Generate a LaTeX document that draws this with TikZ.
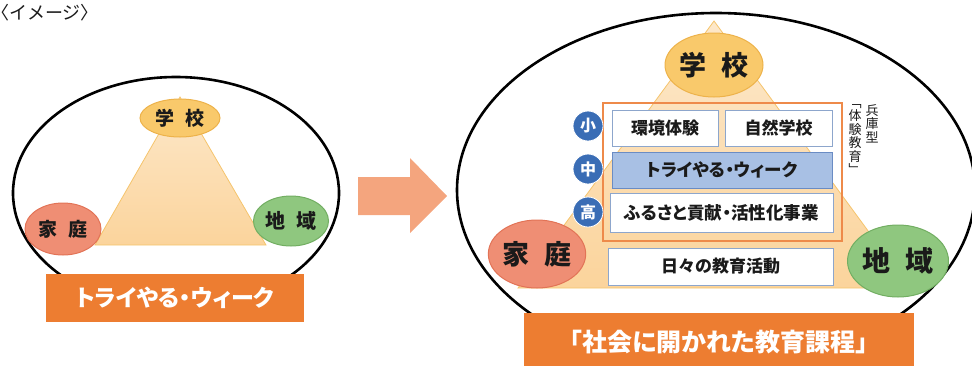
\documentclass[tikz,border=0pt]{standalone}
\usepackage{fontspec}
\newfontfamily\jp{Noto Sans CJK JP}
\newfontfamily\jpp[RawFeature=+palt]{Noto Sans CJK JP}
\usetikzlibrary{shapes.geometric}
\definecolor{schoolF}{HTML}{F9C96B}
\definecolor{schoolD}{HTML}{EDB24A}
\definecolor{homeF}{HTML}{EF8E74}
\definecolor{homeD}{HTML}{E27356}
\definecolor{areaF}{HTML}{8FC77F}
\definecolor{areaD}{HTML}{72AE62}
\definecolor{triTop}{HTML}{FDE8CA}
\definecolor{triBot}{HTML}{FBD49C}
\definecolor{triD}{HTML}{F5C46C}
\definecolor{barOrange}{HTML}{ED7D31}
\definecolor{arrowC}{HTML}{F4A57E}
\definecolor{lvlBlue}{HTML}{3A6DB5}
\definecolor{itemD}{HTML}{8DA6CC}
\definecolor{tryF}{HTML}{A8C0E4}
\definecolor{tryD}{HTML}{6A8CC4}
\definecolor{frameC}{HTML}{EE8A4A}
\definecolor{txt}{HTML}{1A1A1A}
\begin{document}
\begin{tikzpicture}[x=1pt,y=-1pt,
  outline/.style={ellipse, draw=black, line width=2.6pt, inner sep=0pt},
  bubble/.style={ellipse, inner sep=0pt, text=txt, font=\jp\bfseries},
  schoolB/.style={bubble, fill=schoolF, draw=schoolD, line width=1pt},
  homeB/.style={bubble, fill=homeF, draw=homeD, line width=1pt},
  areaB/.style={bubble, fill=areaF, draw=areaD, line width=1pt},
  orangebar/.style={rectangle, fill=barOrange, text=white, font=\jp\bfseries, inner sep=0pt},
  level/.style={circle, fill=lvlBlue, draw=white, line width=0.8pt, text=white,
    font=\jp\bfseries\fontsize{16}{16}\selectfont, minimum size=30pt, inner sep=0pt},
  item/.style={rectangle, draw=itemD, fill=white, line width=1pt, text=txt,
    font=\jp\bfseries\fontsize{17}{17}\selectfont, inner sep=0pt},
  tri/.style={top color=triTop, bottom color=triBot, draw=triD, line width=0.8pt},
  vtext/.style={font=\jp\fontsize{13}{13.5}\selectfont, align=center, anchor=north, inner sep=0pt, text=txt}
]
\useasboundingbox (0,0) rectangle (972,365);
\clip (0,0) rectangle (972,365);

% header
\node[anchor=west, inner sep=0pt, font=\jp\fontsize{18}{18}\selectfont, text=txt] (hdr) at (-9,13) {〈イメージ〉};

% ===== left diagram =====
\node[outline, minimum width=326pt, minimum height=232pt] (outL) at (176,193) {};
\coordinate (tL1) at (180,97);
\coordinate (tL2) at (95,245);
\coordinate (tL3) at (266,245);
\path[tri] (tL1) -- (tL2) -- (tL3) -- cycle;
\node[schoolB, minimum width=80pt, minimum height=38pt, font=\jp\bfseries\fontsize{19}{19}\selectfont] (schL) at (180,118) {学\hspace{0.55em}校};
\node[homeB, minimum width=76pt, minimum height=52pt, font=\jp\bfseries\fontsize{19}{19}\selectfont] (homL) at (63,229) {家\hspace{0.55em}庭};
\node[areaB, minimum width=75pt, minimum height=50pt, font=\jp\bfseries\fontsize{20}{20}\selectfont] (areL) at (291,221) {地\hspace{0.55em}域};
\node[orangebar, minimum width=258pt, minimum height=48pt, font=\jpp\bfseries\fontsize{23}{23}\selectfont] (barL) at (175,298) {トライやる・ウィーク};

% ===== arrow =====
\fill[arrowC] (358,177) -- (410,177) -- (410,158) -- (447,196) -- (410,233) -- (410,215) -- (358,215) -- cycle;

% ===== right diagram =====
\node[outline, minimum width=518pt, minimum height=354pt] (outR) at (716,190) {};
\coordinate (tR1) at (714,21);
\coordinate (tR2) at (518,288);
\coordinate (tR3) at (910,288);
\path[tri] (tR1) -- (tR2) -- (tR3) -- cycle;
\node[schoolB, minimum width=98pt, minimum height=64pt, font=\jp\bfseries\fontsize{27}{27}\selectfont] (schR) at (714,65) {学\hspace{0.55em}校};
\draw[frameC, line width=1.8pt] (603,103) rectangle (842,241);
\node[item, minimum width=106pt, minimum height=36pt] (kankyo) at (665,128) {環境体験};
\node[item, minimum width=107pt, minimum height=36pt] (shizen) at (778.5,128) {自然学校};
\node[item, fill=tryF, draw=tryD, minimum width=220pt, minimum height=36pt, font=\jpp\bfseries\fontsize{17.5}{17.5}\selectfont] (tryR) at (722,170) {トライやる・ウィーク};
\node[item, minimum width=223pt, minimum height=39pt, font=\jpp\bfseries\fontsize{17.5}{17.5}\selectfont] (furu) at (721.5,212.5) {ふるさと貢献・活性化事業};
\node[item, minimum width=225pt, minimum height=37pt] (hibi) at (720.5,266.5) {日々の教育活動};
\node[level] (sho) at (588,126) {小};
\node[level] (chu) at (588,169) {中};
\node[level] (kou) at (588,212) {高};
\node[vtext] (vt1) at (872,104) {兵\\庫\\型};
\node[vtext] (vt2) at (855,104) {﹁\\体\\験\\教\\育\\﹂};
\node[homeB, minimum width=92pt, minimum height=68pt, font=\jp\bfseries\fontsize{27}{27}\selectfont] (homR) at (537,254) {家\hspace{0.55em}庭};
\node[areaB, minimum width=97pt, minimum height=72pt, font=\jp\bfseries\fontsize{28}{28}\selectfont] (areR) at (898,261) {地\hspace{0.55em}域};
\node[orangebar, minimum width=390pt, minimum height=59pt, font=\jpp\bfseries\fontsize{25}{25}\selectfont] (barR) at (719,342.5) {「社会に開かれた教育課程」};
\end{tikzpicture}
\end{document}
